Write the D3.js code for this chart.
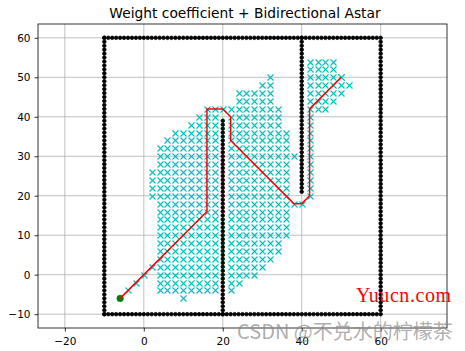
<!DOCTYPE html>
<html>
<head>
<meta charset="utf-8">
<script src="https://cdn.jsdelivr.net/npm/d3@7"></script>
<style>
    body { margin: 0; background: #fff; }
    svg { display: block; font-family: "DejaVu Sans", sans-serif; }
</style>
</head>
<body>
<svg id="drawing_region"></svg>
<script>
const chart_title = "Weight coefficient + Bidirectional Astar";
const x_ticks = [-20, 0, 20, 40, 60];
const y_ticks = [-10, 0, 10, 20, 30, 40, 50, 60];

// obstacle walls [x0, y0, x1, y1], one dot per grid unit
const walls = [
    [-10, -10, 59, -10],
    [60, -10, 60, 59],
    [-10, 60, 60, 60],
    [-10, -10, -10, 60],
    [20, -10, 20, 39],
    [40, 21, 40, 60]
];

// explored nodes, read row by row: [y, x_from, x_to] (grid step 2)
const explored_rows = [
    [54, 42, 48],
    [52, 42, 48],
    [50, 32, 32], [50, 42, 50],
    [48, 30, 32], [48, 42, 52],
    [46, 24, 32], [46, 42, 50],
    [44, 24, 32], [44, 42, 48],
    [42, 16, 34], [42, 42, 46],
    [40, 14, 18], [40, 22, 34], [40, 42, 42],
    [38, 12, 18], [38, 22, 34], [38, 42, 42],
    [36, 8, 18], [36, 22, 36], [36, 42, 42],
    [34, 6, 18], [34, 22, 36], [34, 42, 42],
    [32, 4, 18], [32, 22, 36], [32, 42, 42],
    [30, 4, 18], [30, 22, 38], [30, 42, 42],
    [28, 4, 18], [28, 22, 36], [28, 42, 42],
    [26, 2, 18], [26, 22, 36], [26, 42, 42],
    [24, 2, 18], [24, 22, 36], [24, 42, 42],
    [22, 2, 18], [22, 22, 36], [22, 42, 42],
    [20, 2, 18], [20, 22, 36], [20, 42, 42],
    [18, 4, 18], [18, 22, 40],
    [16, 4, 18], [16, 22, 36],
    [14, 4, 18], [14, 22, 36],
    [12, 4, 18], [12, 22, 36],
    [10, 4, 18], [10, 22, 36],
    [8, 4, 18], [8, 22, 34],
    [6, 4, 18], [6, 22, 34],
    [4, 4, 18], [4, 22, 32],
    [2, 2, 18], [2, 22, 30],
    [0, 0, 0], [0, 4, 18], [0, 22, 28],
    [-2, -2, -2], [-2, 4, 18], [-2, 22, 24],
    [-4, -4, -4], [-4, 4, 18], [-4, 22, 22],
    [-6, 10, 10]
];

const path_x = [-6, 16, 16, 20, 22, 22, 38, 40, 42, 42, 50];
const path_y = [-6, 16, 42, 42, 40, 34, 18, 18, 20, 42, 50];
const start_point = [-6, -6];
const goal_point = [50, 50];

const watermark_site = "Yuucn.com";
const watermark_csdn = "CSDN @不兑水的柠檬茶";

class PathPlot {

    constructor( config ) {
        this.config = {
            parent: config.parent,
            width: config.width || 465,
            height: config.height || 351,
            margin: config.margin || {top:24, right:18, bottom:23, left:38}
        };
        this.init();
    }

    init() {
        let self = this;

        self.svg = d3.select( self.config.parent )
            .attr('width', self.config.width)
            .attr('height', self.config.height);

        self.inner_width = self.config.width - self.config.margin.left - self.config.margin.right;
        self.inner_height = self.config.height - self.config.margin.top - self.config.margin.bottom;

        self.chart = self.svg.append('g')
            .attr('transform', `translate(${self.config.margin.left}, ${self.config.margin.top})`);

        self.xscale = d3.scaleLinear()
            .domain( [-26.8, 76.8] )
            .range( [0, self.inner_width] );

        self.yscale = d3.scaleLinear()
            .domain( [-13.5, 63.5] )
            .range( [self.inner_height, 0] );
    }

    render() {
        let self = this;
        const xs = self.xscale, ys = self.yscale;
        // markers snap to pixel centres like matplotlib does
        const snap = v => Math.round(v) + 0.5;

        // grid
        self.chart.append('g').selectAll('line.gx')
            .data(x_ticks).enter().append('line')
            .attr('x1', d => xs(d)).attr('x2', d => xs(d))
            .attr('y1', 0).attr('y2', self.inner_height)
            .attr('stroke', '#b0b0b0').attr('stroke-width', 0.8);
        self.chart.append('g').selectAll('line.gy')
            .data(y_ticks).enter().append('line')
            .attr('x1', 0).attr('x2', self.inner_width)
            .attr('y1', d => ys(d)).attr('y2', d => ys(d))
            .attr('stroke', '#b0b0b0').attr('stroke-width', 0.8);

        // obstacles
        let obstacles = [];
        walls.forEach( w => {
            if (w[0] === w[2]) d3.range(w[1], w[3] + 1).forEach( y => obstacles.push([w[0], y]) );
            else d3.range(w[0], w[2] + 1).forEach( x => obstacles.push([x, w[1]]) );
        });
        self.chart.append('g').selectAll('circle')
            .data(obstacles).enter().append('circle')
            .attr('cx', d => xs(d[0])).attr('cy', d => ys(d[1]))
            .attr('r', 1.8)
            .attr('fill', '#000').attr('stroke', '#000').attr('stroke-width', 0.8);

        // start and goal
        self.chart.append('circle')
            .attr('cx', xs(start_point[0])).attr('cy', ys(start_point[1]))
            .attr('r', 3.2).attr('fill', '#008000').attr('stroke', '#008000').attr('stroke-width', 0.8);
        self.chart.append('path')
            .attr('transform', `translate(${snap(xs(goal_point[0]))},${snap(ys(goal_point[1]))})`)
            .attr('d', 'M-3,-3L3,3M-3,3L3,-3')
            .attr('stroke', '#0000ff').attr('stroke-width', 1);

        // explored nodes
        let explored = [];
        explored_rows.forEach( r => {
            for (let x = r[1]; x <= r[2]; x += 2) explored.push([x, r[0]]);
        });
        self.chart.append('g').selectAll('path')
            .data(explored).enter().append('path')
            .attr('transform', d => `translate(${snap(xs(d[0]))},${snap(ys(d[1]))})`)
            .attr('d', 'M-3,-3L3,3M-3,3L3,-3')
            .attr('stroke', '#00bfbf').attr('stroke-width', 1.1).attr('fill', 'none');

        // final path
        const line = d3.line()
            .x( (d, i) => xs(path_x[i]) )
            .y( (d, i) => ys(path_y[i]) );
        self.chart.append('path')
            .datum(path_x)
            .attr('d', line)
            .attr('fill', 'none').attr('stroke', '#ff0000').attr('stroke-width', 1.5);

        // axes
        const xaxis = d3.axisBottom(xs).tickValues(x_ticks).tickSize(3.5).tickPadding(6)
            .tickFormat(d => d < 0 ? '\u2212' + Math.abs(d) : d);
        const yaxis = d3.axisLeft(ys).tickValues(y_ticks).tickSize(3.5).tickPadding(4)
            .tickFormat(d => d < 0 ? '\u2212' + Math.abs(d) : d);

        const xg = self.chart.append('g')
            .attr('transform', `translate(0, ${self.inner_height})`)
            .call(xaxis);
        const yg = self.chart.append('g').call(yaxis);
        [xg, yg].forEach( g => {
            g.select('.domain').remove();
            g.selectAll('line').attr('stroke', '#000').attr('stroke-width', 0.8);
            g.selectAll('text').attr('font-size', 10.5).attr('fill', '#000')
                .attr('font-family', '"DejaVu Sans", sans-serif');
        });

        self.chart.append('rect')
            .attr('width', self.inner_width).attr('height', self.inner_height)
            .attr('fill', 'none').attr('stroke', '#000').attr('stroke-width', 0.8);

        // title
        self.svg.append('text')
            .attr('x', 245)
            .attr('y', 18)
            .attr('text-anchor', 'middle')
            .attr('font-size', 13.8)
            .text(chart_title);

        // watermarks
        self.svg.append('text')
            .attr('x', 356).attr('y', 302)
            .attr('font-family', '"Liberation Serif", serif')
            .attr('font-size', 20)
            .attr('fill', '#ff0000')
            .attr('textLength', 95)
            .text(watermark_site);
        self.svg.append('text')
            .attr('x', 237).attr('y', 339)
            .attr('font-family', '"Noto Sans CJK SC", sans-serif')
            .attr('font-size', 20)
            .attr('fill', '#8a8a8a').attr('fill-opacity', 0.7)
            .text(watermark_csdn);
    }
}

const plot = new PathPlot({
    parent: '#drawing_region',
    width: 465,
    height: 351,
    margin: {top:24, right:18, bottom:23, left:38}
});
plot.render();
</script>
</body>
</html>
